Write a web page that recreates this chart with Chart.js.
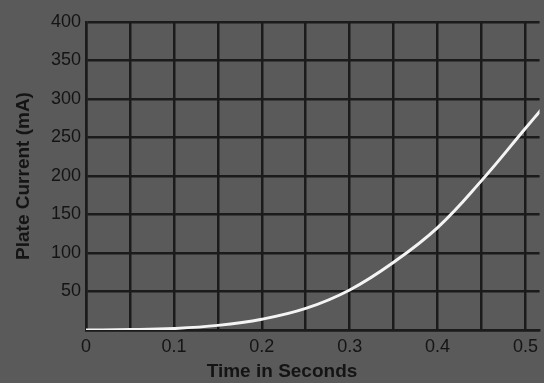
<!DOCTYPE html>
<html>
<head>
<meta charset="utf-8">
<title>Plate Current vs Time</title>
<script src="https://cdn.jsdelivr.net/npm/chart.js@4.4.1/dist/chart.umd.min.js"></script>
<style>
  html, body { margin: 0; padding: 0; background: #5a5a5a; }
  #wrap { width: 544px; height: 383px; position: relative; }
</style>
</head>
<body>
<div id="wrap"><canvas id="plate"></canvas></div>
<script>
// plate current rise after switch-on
const times = [0, 0.05, 0.1, 0.15, 0.2, 0.25, 0.3, 0.35, 0.4, 0.45, 0.5, 0.52];
const currents = [0, 0.5, 2, 6, 14, 28, 52, 88, 133, 194, 262, 289];

const xTicks = [0, 0.1, 0.2, 0.3, 0.4, 0.5];
const yTicks = [50, 100, 150, 200, 250, 300, 350, 400];

const gridColor = "#1b1b1b";
const inkColor = "#141414";

// grey paper behind everything
const paperBg = {
    id: "paperBg",
    beforeDraw(chart) {
        const ctx = chart.ctx;
        ctx.save();
        ctx.fillStyle = "#5a5a5a";
        ctx.fillRect(0, 0, chart.width, chart.height);
        ctx.restore();
    }
};

// caption under the time axis
const timeCaption = {
    id: "timeCaption",
    afterDraw(chart) {
        const ctx = chart.ctx;
        ctx.save();
        ctx.font = "bold 19px 'Liberation Sans', Arial, sans-serif";
        ctx.fillStyle = inkColor;
        ctx.textAlign = "center";
        ctx.textBaseline = "middle";
        ctx.fillText("Time in Seconds", chart.width / 2 + 10, 372);
        ctx.restore();
    }
};

const isMajor = (v) => xTicks.some(t => Math.abs(t - v) < 1e-6);

new Chart(document.getElementById("plate"), {
    type: "line",
    data: {
        datasets: [{
            data: times.map((t, i) => ({ x: t, y: currents[i] })),
            borderColor: "#f4f4f4",
            borderWidth: 3,
            pointRadius: 0,
            tension: 0.4,
            fill: false
        }]
    },
    options: {
        responsive: true,
        maintainAspectRatio: false,
        animation: false,
        layout: { padding: { top: 22, left: 0, right: 0, bottom: 0 } },
        plugins: {
            legend: { display: false },
            tooltip: { enabled: false }
        },
        scales: {
            x: {
                type: "linear",
                min: 0,
                max: 0.516,
                afterFit: (scale) => { scale.height = 53; },
                ticks: {
                    stepSize: 0.05,
                    includeBounds: false,
                    autoSkip: false,
                    maxRotation: 0,
                    padding: 6,
                    color: inkColor,
                    font: { family: "'Liberation Sans', Arial, sans-serif", size: 18 },
                    callback: (v) => isMajor(v) ? (v === 0 ? "0" : v.toFixed(1)) : ""
                },
                grid: { color: gridColor, lineWidth: 2.5, drawTicks: false },
                border: { display: true, color: gridColor, width: 2.5 }
            },
            y: {
                min: 0,
                max: 400,
                afterFit: (scale) => { scale.width = 86; },
                ticks: {
                    stepSize: 50,
                    padding: 5,
                    color: inkColor,
                    font: { family: "'Liberation Sans', Arial, sans-serif", size: 18 },
                    callback: (v) => yTicks.includes(v) ? String(v) : ""
                },
                grid: { color: gridColor, lineWidth: 2.5, drawTicks: false },
                border: { display: true, color: gridColor, width: 2.5 },
                title: {
                    display: true,
                    text: "Plate Current (mA)",
                    color: inkColor,
                    padding: { top: 12, bottom: 0 },
                    font: { family: "'Liberation Sans', Arial, sans-serif", size: 19, weight: "bold" }
                }
            }
        }
    },
    plugins: [paperBg, timeCaption]
});
</script>
</body>
</html>
